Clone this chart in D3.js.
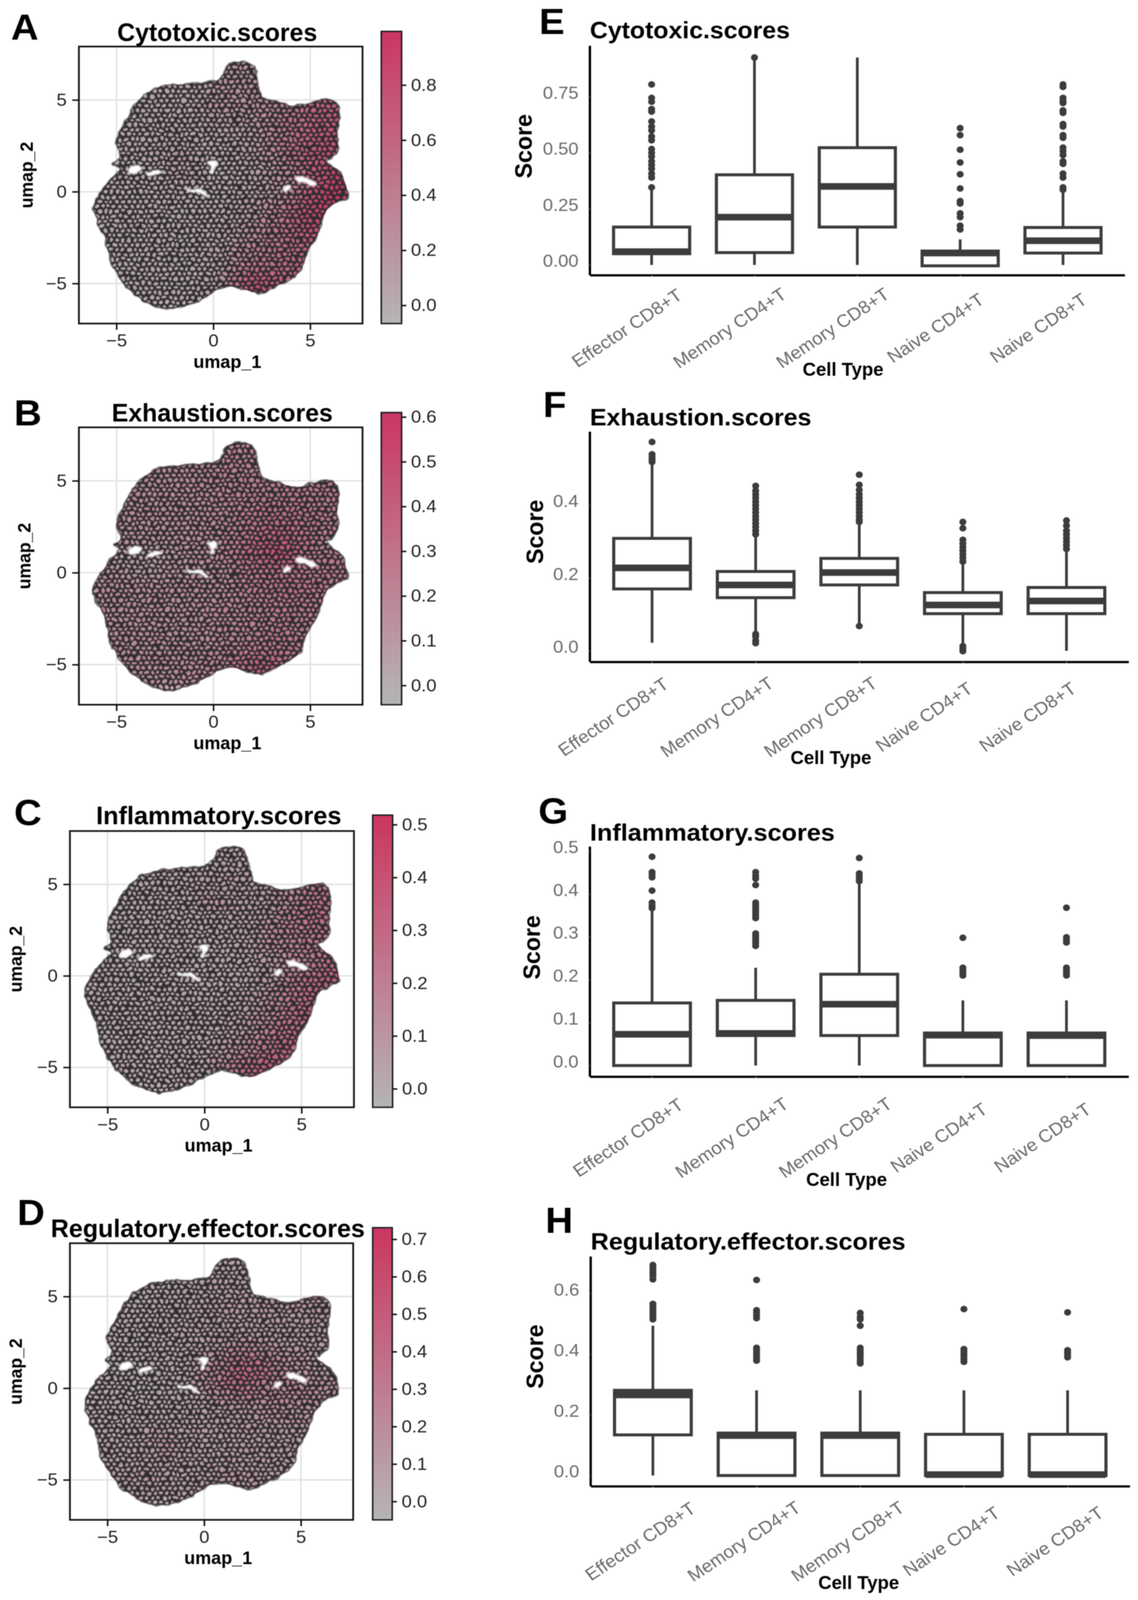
<!DOCTYPE html>
<html>
<head>
<meta charset="utf-8">
<script src="https://cdnjs.cloudflare.com/ajax/libs/d3/7.8.5/d3.min.js"></script>
<style>
  body { margin: 0; background: #fff; overflow: hidden; }
  text { font-family: "Liberation Sans", Arial, sans-serif; }
  #chart { filter: blur(0.8px); }
</style>
</head>
<body>
<div id="chart"></div>
<script>
// ---- umap panels: shape of the cell cloud (umap units) ----
// The thousands of single cells cannot be read one by one. The cloud is drawn as this
// outline, coloured by a coarse score map read by eye, with a dot texture laid on top.
// The texture only imitates the look of the cells, its dots are not data.
var umapOutline = [[0.68,6.81],[1.0,7.04],[1.48,7.08],[1.89,6.97],[2.13,6.7],[2.18,6.4],[2.29,5.79],[2.4,5.52],
  [2.53,5.12],[3.02,4.98],[3.5,4.84],[4.15,4.67],[4.71,4.71],[5.27,4.91],[5.84,5.05],[6.24,4.91],[6.44,4.57],
  [6.48,3.96],[6.37,3.29],[6.4,2.34],[6.08,1.87],[5.76,1.73],[6.0,1.46],[6.48,1.12],[6.81,0.45],[6.89,-0.3],
  [6.48,-0.5],[5.92,-0.91],[5.6,-1.58],[5.35,-2.4],[4.87,-3.21],[4.71,-3.75],[4.39,-4.42],[3.82,-4.83],
  [3.18,-5.17],[2.45,-5.51],[1.73,-5.37],[1.0,-5.17],[0.27,-5.3],[-0.37,-5.71],[-1.34,-6.18],[-2.31,-6.39],
  [-3.11,-6.18],[-3.92,-5.71],[-4.65,-4.97],[-5.13,-4.15],[-5.37,-3.61],[-5.53,-2.67],[-5.94,-1.72],[-6.18,-0.84],
  [-5.85,-0.09],[-5.29,0.72],[-4.81,1.26],[-5.13,1.53],[-4.81,1.8],[-4.81,2.21],[-5.02,2.61],[-4.65,3.56],
  [-4.08,4.64],[-3.27,5.45],[-2.31,5.79],[-1.34,5.86],[-0.53,5.93],[0.19,6.06],[0.52,6.4]];

var umapGaps = [
  [[-4.37,1.26],[-3.92,1.46],[-3.68,1.26],[-4.08,0.99],[-4.37,1.03]],
  [[-3.44,0.95],[-2.87,1.19],[-2.63,1.06],[-3.03,0.92],[-3.35,0.85]],
  [[-1.39,0.24],[-1.15,0.11],[-0.69,0.18],[-0.5,0.04],[-0.21,-0.3],[-0.45,-0.23],[-0.77,-0.03],[-1.02,-0.03],[-1.34,0.04]],
  [[-0.34,1.6],[0.15,1.69],[0.19,1.42],[0.03,1.26],[0.03,1.06],[-0.18,1.01],[-0.13,1.37]],
  [[3.58,0.11],[3.82,0.38],[4.02,0.24],[3.82,0.04],[3.66,0.01]],
  [[4.23,0.78],[4.55,0.85],[4.87,0.72],[5.19,0.58],[5.35,0.38],[5.03,0.31],[4.71,0.51],[4.39,0.51]]
];

// score map cells: columns umap_1 = -6..7, rows umap_2 = 7..-6
var heatCols = d3.range(-6, 8);
var heatRows = d3.range(7, -7, -1);

var cytotoxicHeat = [
  [.05,.05,.05,.05,.05,.08,.16,.24,.22,.28,.42,.58,.65,.65],
  [.05,.05,.05,.05,.05,.08,.16,.24,.22,.28,.42,.58,.65,.65],
  [.05,.05,.05,.05,.05,.08,.2,.22,.22,.28,.4,.55,.62,.65],
  [.05,.05,.05,.05,.05,.08,.16,.18,.22,.3,.46,.62,.68,.7],
  [.05,.05,.05,.05,.08,.05,.05,.08,.16,.3,.5,.66,.72,.75],
  [.04,.04,.05,.1,.18,.08,.05,.05,.15,.28,.48,.7,.78,.8],
  [.04,.04,.04,.05,.14,.14,.05,.05,.08,.18,.3,.6,.82,.9],
  [.05,.05,.04,.04,.05,.05,.05,.05,.08,.18,.36,.75,.95,.98],
  [.05,.05,.04,.04,.04,.04,.05,.08,.16,.32,.58,.85,.92,.95],
  [.04,.04,.04,.04,.04,.04,.05,.14,.26,.4,.6,.82,.85,.85],
  [.04,.04,.04,.04,.04,.04,.08,.2,.33,.44,.55,.62,.65,.65],
  [.04,.04,.04,.04,.04,.04,.08,.26,.44,.5,.58,.6,.6,.6],
  [.04,.04,.04,.04,.04,.04,.08,.48,.85,.7,.6,.6,.6,.6],
  [.04,.04,.04,.04,.04,.04,.05,.26,.6,.6,.6,.6,.6,.6]
];
var exhaustionHeat = [
  [.18,.18,.18,.18,.18,.18,.2,.22,.22,.24,.25,.27,.27,.27],
  [.18,.18,.18,.18,.18,.18,.2,.22,.22,.24,.25,.27,.27,.27],
  [.16,.16,.16,.16,.16,.18,.2,.22,.22,.24,.25,.25,.25,.25],
  [.16,.16,.16,.16,.16,.16,.18,.22,.24,.25,.27,.25,.25,.25],
  [.16,.16,.16,.16,.16,.16,.18,.22,.27,.31,.31,.27,.25,.25],
  [.14,.14,.14,.14,.14,.16,.18,.23,.31,.4,.38,.27,.23,.23],
  [.1,.08,.06,.06,.1,.16,.18,.25,.38,.5,.46,.25,.23,.23],
  [.14,.12,.1,.1,.14,.16,.16,.2,.27,.29,.31,.25,.27,.27],
  [.16,.16,.16,.16,.16,.16,.18,.2,.25,.27,.31,.29,.27,.27],
  [.16,.16,.16,.16,.16,.16,.18,.2,.22,.25,.27,.25,.25,.25],
  [.16,.16,.16,.16,.16,.16,.18,.2,.22,.25,.25,.22,.22,.22],
  [.16,.16,.16,.16,.16,.16,.18,.2,.25,.27,.27,.25,.25,.25],
  [.16,.16,.16,.16,.16,.18,.2,.27,.38,.4,.29,.27,.27,.27],
  [.16,.16,.16,.16,.18,.2,.22,.27,.33,.33,.29,.27,.27,.27]
];
var inflammatoryHeat = [
  [.03,.03,.03,.03,.03,.03,.05,.05,.05,.07,.11,.17,.23,.23],
  [.03,.03,.03,.03,.03,.03,.05,.05,.05,.07,.11,.17,.23,.23],
  [.03,.03,.03,.03,.03,.03,.08,.08,.07,.07,.1,.17,.24,.24],
  [.03,.03,.03,.03,.03,.03,.1,.1,.07,.07,.12,.22,.27,.27],
  [.03,.03,.03,.03,.03,.03,.03,.05,.05,.1,.17,.24,.27,.27],
  [.02,.02,.03,.03,.05,.03,.02,.02,.05,.12,.2,.22,.24,.24],
  [.02,.02,.02,.02,.03,.03,.02,.02,.03,.07,.12,.17,.22,.28],
  [.03,.03,.02,.02,.03,.03,.02,.02,.03,.05,.15,.24,.33,.36],
  [.05,.04,.03,.03,.03,.03,.03,.03,.05,.1,.2,.28,.3,.3],
  [.04,.03,.03,.03,.03,.03,.03,.05,.07,.12,.22,.31,.3,.3],
  [.03,.03,.03,.03,.03,.03,.03,.05,.1,.17,.27,.3,.3,.3],
  [.03,.03,.03,.03,.03,.03,.03,.07,.15,.24,.32,.32,.3,.3],
  [.03,.03,.03,.03,.03,.03,.05,.2,.28,.36,.32,.3,.3,.3],
  [.03,.03,.03,.03,.03,.03,.05,.17,.26,.3,.3,.3,.3,.3]
];
var regulatoryHeat = [
  [.04,.04,.04,.04,.04,.04,.06,.06,.06,.08,.1,.12,.14,.14],
  [.04,.04,.04,.04,.04,.04,.06,.06,.06,.08,.1,.12,.14,.14],
  [.04,.04,.04,.04,.04,.06,.08,.11,.11,.13,.13,.13,.14,.14],
  [.04,.04,.04,.04,.06,.08,.1,.11,.13,.13,.13,.13,.13,.13],
  [.04,.04,.04,.04,.04,.06,.08,.1,.1,.1,.1,.1,.1,.1],
  [.03,.03,.04,.06,.06,.06,.1,.2,.28,.24,.15,.12,.1,.1],
  [.03,.03,.03,.03,.04,.06,.2,.32,.5,.42,.25,.15,.12,.12],
  [.04,.04,.03,.03,.04,.06,.15,.3,.42,.25,.25,.22,.2,.17],
  [.04,.04,.04,.04,.06,.06,.08,.13,.15,.15,.2,.17,.15,.15],
  [.04,.04,.04,.06,.08,.06,.08,.1,.13,.13,.13,.13,.13,.13],
  [.06,.06,.06,.08,.24,.1,.08,.08,.1,.1,.1,.1,.1,.1],
  [.08,.08,.08,.1,.13,.08,.08,.1,.13,.1,.1,.1,.1,.1],
  [.1,.1,.1,.13,.1,.08,.13,.15,.15,.13,.1,.1,.1,.1],
  [.1,.1,.1,.1,.1,.08,.1,.1,.1,.1,.1,.1,.1,.1]
];

// colour bar ranges and tick labels
var cytotoxicBar = [-0.066, 0.995], cytotoxicBarTicks = [0, 0.2, 0.4, 0.6, 0.8];
var exhaustionBar = [-0.043, 0.61], exhaustionBarTicks = [0, 0.1, 0.2, 0.3, 0.4, 0.5, 0.6];
var inflammatoryBar = [-0.035, 0.518], inflammatoryBarTicks = [0, 0.1, 0.2, 0.3, 0.4, 0.5];
var regulatoryBar = [-0.049, 0.731], regulatoryBarTicks = [0, 0.1, 0.2, 0.3, 0.4, 0.5, 0.6, 0.7];

// ---- box plots ----
var cellTypes = ["Effector CD8+T", "Memory CD4+T", "Memory CD8+T", "Naive CD4+T", "Naive CD8+T"];

// each row: whisker low, q1, median, q3, whisker high
var cytotoxicBox = [[0,.05,.059,.169,.34],[0,.055,.213,.402,.925],[0,.169,.35,.523,.925],[0,-.004,.053,.062,.114],[0,.053,.108,.167,.346]];
var exhaustionBox = [[.022,.17,.228,.309,.526],[.046,.146,.181,.218,.319],[.07,.181,.215,.254,.354],[.018,.102,.126,.16,.242],[0,.102,.137,.174,.277]];
var inflammatoryBox = [[0,0,.073,.146,.368],[0,.07,.075,.152,.228],[0,.07,.143,.213,.439],[0,0,.071,.076,.152],[0,0,.07,.076,.152]];
var regulatoryBox = [[0,.134,.266,.281,.494],[0,0,.132,.14,.281],[0,0,.132,.14,.281],[0,0,.003,.136,.281],[0,0,.003,.136,.281]];

var cytotoxicOutliers = [
  [.805,.745,.728,.695,.684,.64,.617,.6,.573,.556,.517,.5,.484,.462,.445,.429,.407,.39,.346],
  [.925],
  [],
  [.61,.579,.514,.457,.404,.341,.285,.274,.23,.213,.175,.158],
  [.805,.794,.745,.733,.722,.689,.678,.628,.617,.579,.567,.523,.507,.49,.462,.451,.407,.39,.346,.335]
];
var exhaustionOutliers = [
  [.574,.54,.533,.526,.519],
  [.453,.44,.43,.42,.41,.4,.39,.38,.37,.36,.35,.34,.33,.32,.046,.039,.028,.021],
  [.484,.456,.442,.43,.42,.41,.4,.39,.38,.37,.36,.354,.068],
  [.354,.337,.305,.295,.285,.275,.265,.255,.245,.013,.006,-.001],
  [.358,.344,.33,.32,.31,.3,.29,.28]
];
var inflammatoryOutliers = [
  [.487,.451,.445,.439,.408,.38,.373,.367],
  [.451,.443,.436,.421,.38,.374,.368,.362,.356,.35,.344,.308,.302,.296,.29,.285,.279],
  [.484,.448,.442,.436,.43],
  [.298,.228,.222,.216,.21],
  [.368,.299,.293,.287,.228,.222,.216,.21]
];
var regulatoryOutliers = [
  [.694,.685,.676,.668,.659,.647,.566,.557,.549,.54,.532,.523,.515],
  [.645,.545,.536,.528,.519,.421,.413,.405,.397,.388,.379],
  [.536,.523,.515,.494,.421,.413,.405,.397,.388,.379,.37],
  [.549,.417,.409,.4,.392,.383,.375],
  [.538,.413,.405,.397,.39]
];

var scoreTicksE = [0, 0.25, 0.5, 0.75];
var scoreTicksF = [0, 0.2, 0.4];
var scoreTicksG = [0, 0.1, 0.2, 0.3, 0.4, 0.5];
var scoreTicksH = [0, 0.2, 0.4, 0.6];

// ---- layout ----
var svgWidth = 2913, svgHeight = 4332;
var barLow = "#b5b5b5", barHigh = "#cb3662";
var inkDark = "#3c3c3c", greyText = "#6a6a6a";

// the browser viewport can come out shorter than the figure, so fit the figure to it
var svg = d3.select("#chart").append("svg")
  .attr("width", window.innerWidth)
  .attr("height", window.innerHeight)
  .attr("viewBox", "0 0 " + svgWidth + " " + svgHeight)
  .attr("preserveAspectRatio", "none")
  .style("display", "block");

var defs = svg.append("defs");

// dark tile with round openings: the score map shows through the openings
var tileW = 15, tileH = 26, holeR = 5;
var tilePath = d3.path();
tilePath.rect(0, 0, tileW, tileH);
[[0, 0], [tileW, 0], [0, tileH], [tileW, tileH], [tileW / 2, tileH / 2]].forEach(function(c) {
  tilePath.moveTo(c[0] + holeR, c[1]);
  tilePath.arc(c[0], c[1], holeR, 0, 2 * Math.PI);
});
defs.append("pattern")
  .attr("id", "cellTexture")
  .attr("patternUnits", "userSpaceOnUse")
  .attr("width", tileW)
  .attr("height", tileH)
  .append("path")
  .attr("d", tilePath.toString())
  .attr("fill", "#2e2c2e")
  .attr("fill-rule", "evenodd");

var jitter = defs.append("filter")
  .attr("id", "jitter")
  .attr("x", "-5%").attr("y", "-5%").attr("width", "110%").attr("height", "110%")
  .attr("color-interpolation-filters", "sRGB");
jitter.append("feTurbulence")
  .attr("type", "fractalNoise")
  .attr("baseFrequency", 0.04)
  .attr("numOctaves", 2)
  .attr("seed", 4)
  .attr("result", "noise");
jitter.append("feDisplacementMap")
  .attr("in", "SourceGraphic")
  .attr("in2", "noise")
  .attr("scale", 14)
  .attr("xChannelSelector", "R")
  .attr("yChannelSelector", "G")
  .attr("result", "moved");
jitter.append("feGaussianBlur")
  .attr("in", "moved")
  .attr("stdDeviation", 1.2);

defs.append("filter").attr("id", "soft").attr("x", "-10%").attr("y", "-10%").attr("width", "120%").attr("height", "120%")
  .append("feGaussianBlur").attr("stdDeviation", 20);
defs.append("filter").attr("id", "softGap").attr("x", "-30%").attr("y", "-30%").attr("width", "160%").attr("height", "160%")
  .append("feGaussianBlur").attr("stdDeviation", 2.5);

function label(g, txt, x, y, size, opts) {
  opts = opts || {};
  var t = g.append("text")
    .attr("font-size", size)
    .attr("font-weight", opts.weight || "bold")
    .attr("fill", opts.fill || "#000")
    .attr("text-anchor", opts.anchor || "start")
    .attr("transform", "translate(" + x + "," + y + ")" + (opts.rotate ? " rotate(" + opts.rotate + ")" : ""))
    .text(txt);
  if (opts.width) t.attr("textLength", opts.width).attr("lengthAdjust", "spacingAndGlyphs");
  return t;
}

function styleAxis(g, size, color) {
  g.selectAll(".tick text")
    .attr("font-size", size)
    .attr("fill", color)
    .style("font-family", '"Liberation Sans", Arial, sans-serif');
}

function drawUmap(p, heat, barRange, barTicks) {
  var g = svg.append("g");

  var x = d3.scaleLinear().domain([-6.94, 7.7]).range([p.left, p.right]);
  var y = d3.scaleLinear().domain([-7.18, 7.91]).range([p.bottom, p.top]);
  var color = d3.scaleLinear().domain(barRange).range([barLow, barHigh]);

  label(g, p.letter, p.letterX, p.letterY, 98);
  label(g, p.title, p.titleX, p.titleY, 68, {width: p.titleW});
  label(g, "umap_1", (p.left + p.right) / 2 + 17, p.bottom + 120, 48, {anchor: "middle", width: 174});
  label(g, "umap_2", p.yLabelX, (p.top + p.bottom) / 2 - 27, 46, {anchor: "middle", rotate: -90, width: 180});

  // grid
  [-5, 0, 5].forEach(function(v) {
    g.append("line").attr("x1", x(v)).attr("x2", x(v)).attr("y1", p.top).attr("y2", p.bottom)
      .attr("stroke", "#e2e2e2").attr("stroke-width", 4);
    g.append("line").attr("y1", y(v)).attr("y2", y(v)).attr("x1", p.left).attr("x2", p.right)
      .attr("stroke", "#e2e2e2").attr("stroke-width", 4);
  });

  var outlineLine = d3.line()
    .x(function(d) { return x(d[0]); })
    .y(function(d) { return y(d[1]); })
    .curve(d3.curveCatmullRomClosed);

  defs.append("clipPath").attr("id", "clip" + p.letter)
    .append("path").attr("d", outlineLine(umapOutline));

  // score map under the texture
  var heatG = g.append("g").attr("clip-path", "url(#clip" + p.letter + ")")
    .append("g").attr("filter", "url(#soft)");
  heat.forEach(function(row, i) {
    row.forEach(function(v, j) {
      heatG.append("rect")
        .attr("x", x(heatCols[j] - 0.5))
        .attr("y", y(heatRows[i] + 0.5))
        .attr("width", x(heatCols[j] + 0.5) - x(heatCols[j] - 0.5) + 1)
        .attr("height", y(heatRows[i] - 0.5) - y(heatRows[i] + 0.5) + 1)
        .attr("fill", color(v));
    });
  });

  g.append("path")
    .attr("d", outlineLine(umapOutline))
    .attr("fill", "url(#cellTexture)")
    .attr("stroke", "#333033")
    .attr("stroke-width", 5)
    .attr("stroke-opacity", 0.7)
    .attr("filter", "url(#jitter)");

  // white gaps in the cloud
  g.selectAll(".gap").data(umapGaps).enter().append("path")
    .attr("class", "gap")
    .attr("d", outlineLine)
    .attr("fill", "#ffffff")
    .attr("filter", "url(#softGap)");

  // frame and axes
  g.append("rect")
    .attr("x", p.left).attr("y", p.top)
    .attr("width", p.right - p.left).attr("height", p.bottom - p.top)
    .attr("fill", "none").attr("stroke", "#111").attr("stroke-width", 4.5);

  var xAxis = g.append("g")
    .attr("transform", "translate(0," + p.bottom + ")")
    .call(d3.axisBottom(x).tickValues([-5, 0, 5]).tickSize(17).tickPadding(12).tickFormat(d3.format("d")));
  var yAxis = g.append("g")
    .attr("transform", "translate(" + p.left + ",0)")
    .call(d3.axisLeft(y).tickValues([-5, 0, 5]).tickSize(17).tickPadding(14).tickFormat(d3.format("d")));
  [xAxis, yAxis].forEach(function(a) {
    a.select(".domain").remove();
    a.selectAll("line").attr("stroke", "#111").attr("stroke-width", 4);
    styleAxis(a, 47, "#222");
  });

  // colour bar
  var barScale = d3.scaleLinear().domain(barRange).range([p.bottom, p.barTop]);
  var gradId = "bar" + p.letter;
  var grad = defs.append("linearGradient").attr("id", gradId)
    .attr("x1", 0).attr("x2", 0).attr("y1", 1).attr("y2", 0);
  grad.append("stop").attr("offset", "0%").attr("stop-color", barLow);
  grad.append("stop").attr("offset", "100%").attr("stop-color", barHigh);

  g.append("rect")
    .attr("x", p.barX).attr("y", p.barTop)
    .attr("width", p.barW).attr("height", p.bottom - p.barTop)
    .attr("fill", "url(#" + gradId + ")")
    .attr("stroke", "#222").attr("stroke-width", 4);

  var barAxis = g.append("g")
    .attr("transform", "translate(" + (p.barX + p.barW) + ",0)")
    .call(d3.axisRight(barScale).tickValues(barTicks).tickSize(12).tickPadding(12).tickFormat(d3.format(".1f")));
  barAxis.select(".domain").remove();
  barAxis.selectAll("line").attr("stroke", "#111").attr("stroke-width", 4);
  styleAxis(barAxis, 47, "#222");
}

function drawBox(p, stats, outliers, scoreTicks, tickFormat) {
  var g = svg.append("g");

  var x = d3.scalePoint().domain(cellTypes).range([p.left, p.right]).padding(0.6);
  var y = d3.scaleLinear().domain([0, 1]).range([p.y0, p.y0 - p.perUnit]);
  var boxW = x.step() * 0.74;

  label(g, p.letter, p.letterX, p.letterY, 98);
  label(g, p.title, p.left, p.titleY, 64, {width: p.titleW});
  label(g, "Score", p.scoreX, p.scoreY, 62, {anchor: "middle", rotate: -90, width: 174});
  label(g, "Cell Type", p.cellX, p.cellY, 50, {anchor: "middle", width: 207});

  var xAxis = g.append("g")
    .attr("transform", "translate(0," + p.bottom + ")")
    .call(d3.axisBottom(x).tickSize(5).tickSizeOuter(0));
  xAxis.select(".domain").attr("stroke", "#000").attr("stroke-width", 6);
  xAxis.selectAll(".tick line").attr("stroke", "#bbb").attr("stroke-width", 2);
  styleAxis(xAxis, 48, greyText);
  xAxis.selectAll(".tick text")
    .attr("x", 0).attr("y", 0).attr("dy", "0.35em")
    .attr("text-anchor", "middle")
    .attr("transform", "translate(" + p.labelDx + "," + p.labelDy + ") rotate(-35)");

  var yAxis = g.append("g")
    .attr("transform", "translate(" + p.left + ",0)")
    .call(d3.axisLeft(y).tickValues(scoreTicks).tickSize(5).tickSizeOuter(0).tickPadding(24).tickFormat(d3.format(tickFormat)));
  yAxis.select(".domain").attr("d", "M0," + p.top + "V" + p.bottom).attr("stroke", "#000").attr("stroke-width", 6);
  yAxis.selectAll(".tick line").attr("stroke", "#999").attr("stroke-width", 2);
  styleAxis(yAxis, 47, greyText);
  yAxis.selectAll(".tick text").attr("dy", "0.1em");

  var groups = g.selectAll(".box")
    .data(cellTypes)
    .enter().append("g")
    .attr("class", "box");

  groups.each(function(name, i) {
    var s = stats[i], group = d3.select(this), cx = x(name);

    group.append("line")
      .attr("x1", cx).attr("x2", cx)
      .attr("y1", y(s[0])).attr("y2", y(s[4]))
      .attr("stroke", inkDark).attr("stroke-width", 7);

    group.append("rect")
      .attr("x", cx - boxW / 2).attr("width", boxW)
      .attr("y", y(s[3])).attr("height", y(s[1]) - y(s[3]))
      .attr("fill", "#fff")
      .attr("stroke", inkDark).attr("stroke-width", 8);

    group.append("line")
      .attr("x1", cx - boxW / 2).attr("x2", cx + boxW / 2)
      .attr("y1", y(s[2])).attr("y2", y(s[2]))
      .attr("stroke", inkDark).attr("stroke-width", 18);

    group.selectAll("circle").data(outliers[i]).enter().append("circle")
      .attr("cx", cx)
      .attr("cy", function(d) { return y(d); })
      .attr("r", 9)
      .attr("fill", inkDark);
  });
}

// ---- panels ----
drawUmap({letter: "A", title: "Cytotoxic.scores", letterX: 28, letterY: 107, titleX: 300, titleY: 111, titleW: 512,
  left: 202, right: 928, top: 126, bottom: 876, yLabelX: 84, barX: 976, barW: 52, barTop: 85},
  cytotoxicHeat, cytotoxicBar, cytotoxicBarTicks);
drawUmap({letter: "B", title: "Exhaustion.scores", letterX: 36, letterY: 1152, titleX: 286, titleY: 1141, titleW: 566,
  left: 202, right: 928, top: 1157, bottom: 1908, yLabelX: 78, barX: 976, barW: 52, barTop: 1117},
  exhaustionHeat, exhaustionBar, exhaustionBarTicks);
drawUmap({letter: "C", title: "Inflammatory.scores", letterX: 36, letterY: 2234, titleX: 246, titleY: 2232, titleW: 628,
  left: 179, right: 906, top: 2250, bottom: 2998, yLabelX: 56, barX: 954, barW: 51, barTop: 2207},
  inflammatoryHeat, inflammatoryBar, inflammatoryBarTicks);
drawUmap({letter: "D", title: "Regulatory.effector.scores", letterX: 44, letterY: 3317, titleX: 130, titleY: 3350, titleW: 804,
  left: 179, right: 904, top: 3366, bottom: 4115, yLabelX: 56, barX: 954, barW: 50, barTop: 3324},
  regulatoryHeat, regulatoryBar, regulatoryBarTicks);

drawBox({letter: "E", title: "Cytotoxic.scores", letterX: 1380, letterY: 92, titleY: 104, titleW: 512,
  left: 1510, right: 2879, top: 124, bottom: 745, y0: 717.3, perUnit: 607,
  scoreX: 1361, scoreY: 396, cellX: 2158, cellY: 1017, labelDx: -64, labelDy: 143},
  cytotoxicBox, cytotoxicOutliers, scoreTicksE, ".2f");
drawBox({letter: "F", title: "Exhaustion.scores", letterX: 1390, letterY: 1129, titleY: 1152, titleW: 567,
  left: 1510, right: 2889, top: 1169, bottom: 1792, y0: 1762, perUnit: 985,
  scoreX: 1390, scoreY: 1440, cellX: 2127, cellY: 2069, labelDx: -100, labelDy: 149},
  exhaustionBox, exhaustionOutliers, scoreTicksF, ".1f");
drawBox({letter: "G", title: "Inflammatory.scores", letterX: 1378, letterY: 2229, titleY: 2276, titleW: 627,
  left: 1510, right: 2889, top: 2292, bottom: 2915, y0: 2885, perUnit: 1161,
  scoreX: 1382, scoreY: 2565, cellX: 2167, cellY: 3211, labelDx: -62, labelDy: 165},
  inflammatoryBox, inflammatoryOutliers, scoreTicksG, ".1f");
drawBox({letter: "H", title: "Regulatory.effector.scores", letterX: 1396, letterY: 3338, titleY: 3383, titleW: 806,
  left: 1512, right: 2892, top: 3402, bottom: 4024, y0: 3995, perUnit: 821,
  scoreX: 1390, scoreY: 3673, cellX: 2198, cellY: 4302, labelDx: -33, labelDy: 149},
  regulatoryBox, regulatoryOutliers, scoreTicksH, ".1f");
</script>
</body>
</html>
